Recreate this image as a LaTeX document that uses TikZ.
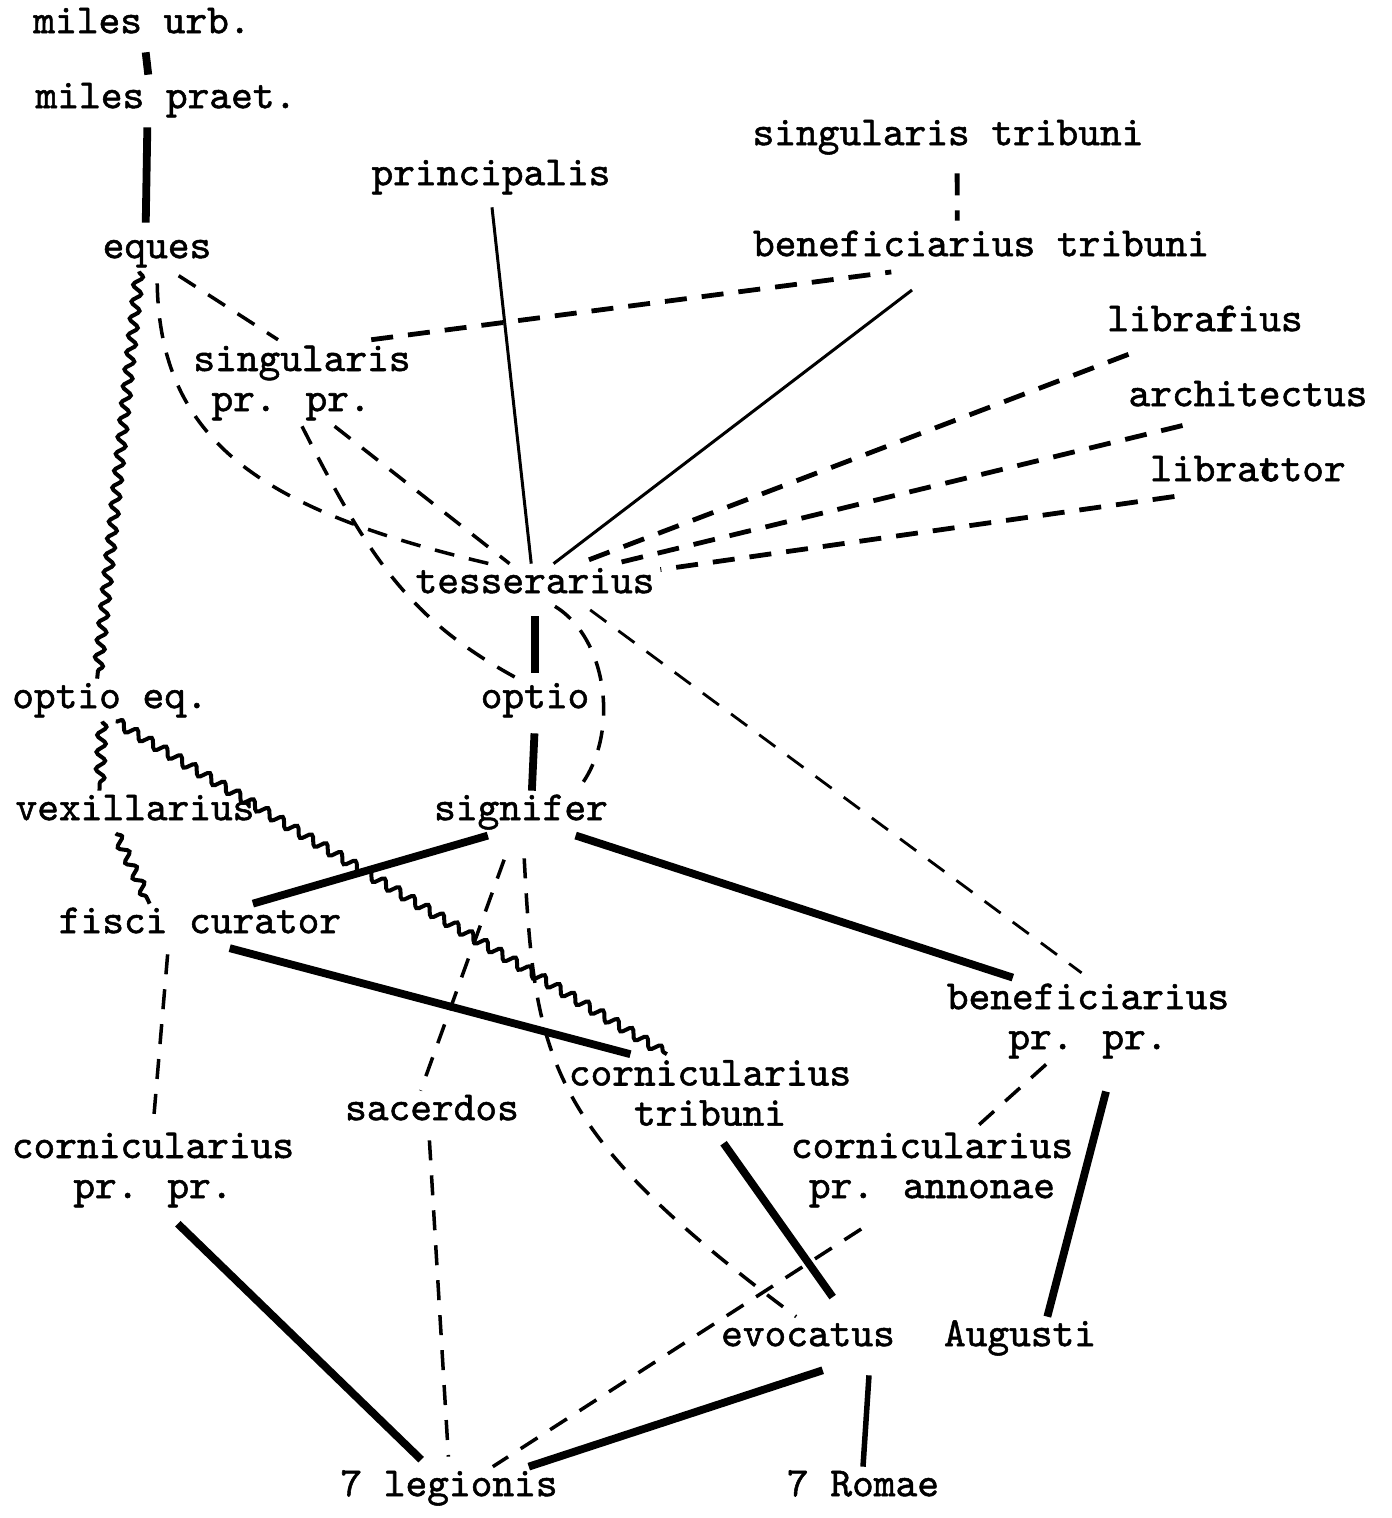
\documentclass[tikz,border=0pt]{standalone}
\usepackage{fontspec}
\usepackage{tikz}
\usetikzlibrary{
	decorations.pathmorphing
}
\newfontfamily\typefont{lmmono10-regular.otf}[FakeBold=1.3]
\newcommand{\rankfont}{\typefont\fontsize{11.76}{11.4}\selectfont}

\begin{document}
\begin{tikzpicture}[
		x=0.01cm, y=-0.01cm,
		tag/.style={font=\rankfont, inner sep=0.06cm, outer sep=0pt, text height=0.235cm, text depth=0.072cm},
		tagtwo/.style={font=\rankfont, inner sep=0.06cm, outer sep=0pt, align=center},
		heavy/.style={line width=0.078cm},
		fine/.style={line width=0.03cm},
		dashline/.style={line width=0.035cm, dash pattern=on 0.2cm off 0.15cm},
		fandash/.style={line width=0.048cm, dash pattern=on 0.22cm off 0.15cm},
		wave/.style={line width=0.04cm, decorate, decoration={snake, segment length=0.17cm, amplitude=0.045cm}}
	]
		\useasboundingbox (0,0) rectangle (1392,1518);

		\draw
			node[tag]    (mu) at (142,25)    {miles urb.}
			node[tag]    (mp) at (166,100)   {miles praet.}
			node[tag]    (eq) at (157,250)   {eques}
			node[tag]    (pr) at (491,177)   {principalis}
			node[tag]    (st) at (948,137)   {singularis tribuni}
			node[tag]    (bt) at (981,248)   {beneficiarius tribuni}
			node[tag]    (lb) at (1205,323)  {libra\rlap{r}fius}
			node[tag]    (ar) at (1248,398)  {architectus}
			node[tag]    (lt) at (1248,473)  {libra\rlap{t}ctor}
			node[tagtwo] (sp) at (302,383)   {singularis\\pr. pr.\hphantom{x}}
			node[tag]    (te) at (535,585)   {tesserarius}
			node[tag]    (oe) at (110,700)   {optio eq.}
			node[tag]    (op) at (535,700)   {optio}
			node[tag]    (vx) at (135,812)   {vexillarius}
			node[tag]    (sg) at (521,812)   {signifer}
			node[tag]    (fc) at (200,925)   {fisci curator}
			node[tagtwo] (bp) at (1088,1021) {beneficiarius\\pr. pr.}
			node[tagtwo] (ct) at (710,1093)  {cornicularius\\tribuni}
			node[tag]    (sa) at (432,1112)  {sacerdos}
			node[tagtwo] (cp) at (153,1170)  {cornicularius\\pr. pr.}
			node[tagtwo] (ca) at (932,1170)  {cornicularius\\pr. annonae}
			node[tag]    (ev) at (808,1338)  {evocatus}
			node[tag]    (au) at (1020,1338) {Augusti}
			node[tag]    (lg) at (449,1488)  {7 legionis}
			node[tag]    (ro) at (863,1488)  {7 Romae}

			(mu.-82)  edge[heavy, shorten <=0.06cm, shorten >=0.04cm] (mp.129)
			(mp.-131) edge[heavy, shorten <=0.06cm, shorten >=0.06cm] (eq.118)
			(eq.-130) edge[wave]                                       (oe.121)
			(eq.-55)  edge[dashline, shorten <=0.08cm]                 (sp.119)
			(sp.32)   edge[fandash, shorten >=0.2cm]                   (bt.-163)
			(sp.-53)  edge[dashline]                                   (te.140)
			(pr.south) edge[fine, shorten <=0.09cm]                    (te.100)
			(bt.-153) edge[fine, shorten <=0.34cm]                     (te.49)
			(st.-67)  edge[fandash, shorten <=0.15cm, shorten >=0.06cm] (bt.138)
			(lb.-157) edge[fandash, shorten <=0.28cm]                  (te.26)
			(ar.-152) edge[fandash, shorten <=0.26cm]                  (te.15)
			(lt.-160) edge[fandash, shorten <=0.15cm]                  (te.7)
			(te.south) edge[heavy, shorten <=0.1cm, shorten >=0.06cm]  (op.north)
			(op.south) edge[heavy, shorten <=0.12cm]                   (sg.63)
			(te.-23)  edge[dashline, line width=0.028cm, shorten <=0.06cm, shorten >=0.08cm] (bp.north)
			(oe.-110) edge[wave]                                       (vx.149)
			(oe.-75)  edge[wave]                                       (ct.138)
			(vx.-132) edge[wave]                                       (fc.157)
			(sg.-140) edge[heavy, shorten <=0.08cm]                    (fc.22)
			(sg.-24)  edge[heavy, shorten <=0.07cm]                    (bp.150)
			(fc.-43)  edge[heavy, shorten <=0.07cm]                    (ct.154)
			(fc.-146) edge[dashline, shorten <=0.08cm]                 (cp.north)
			(sg.-109) edge[dashline, shorten <=0.28cm]                 (sa.118)
			(bp.-134) edge[dashline]                                   (ca.44)
			(ca.-137) edge[dashline, shorten <=0.29cm]                 (lg.26)
			(bp.-60)  edge[heavy, shorten <=0.28cm]                    (au.38)
			(ct.-82)  edge[heavy, shorten <=0.14cm, shorten >=0.24cm]  (ev.29)
			(ev.-24)  edge[heavy, shorten <=0.35cm]                    (lg.15)
			(ev.-19)  edge[heavy, line width=0.055cm, shorten <=0.16cm] (ro.north)
			(cp.-72)  edge[heavy, shorten <=0.15cm, shorten >=0.1cm]   (lg.134)
			(sa.-98)  edge[dashline, shorten <=0.07cm, shorten >=0.1cm] (lg.north)
		;

		% bent dashed links
		\draw[dashline, shorten <=0.12cm] (eq.south) .. controls (160,440) and (260,510) .. (te.155);
		\draw[dashline] (sp.south) .. controls (370,560) and (410,620) .. (op.129);
		\draw[dashline] (te.-47) .. controls (610,640) and (620,740) .. (sg.21);
		\draw[dashline, shorten <=0.25cm] (sg.-85) .. controls (535,1060) and (545,1130) .. (ev.119);
	\end{tikzpicture}
\end{document}
